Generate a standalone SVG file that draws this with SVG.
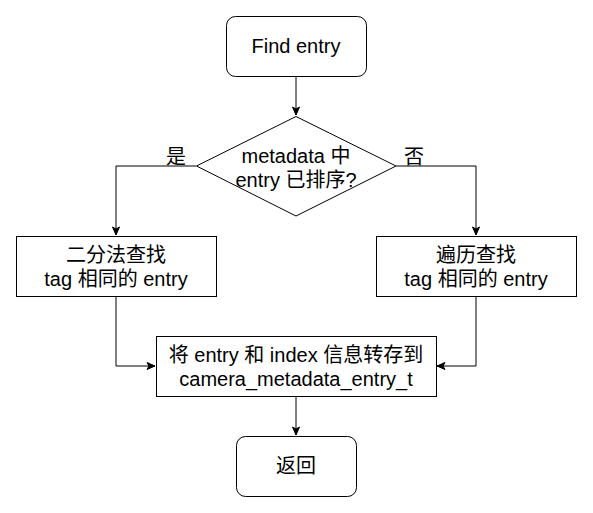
<svg xmlns="http://www.w3.org/2000/svg" width="593" height="513" viewBox="0 0 593 513">
<style>
.box{fill:#fff;stroke:#000;stroke-width:1}
.t{font-family:"Liberation Sans","Noto Sans CJK SC",sans-serif;font-size:20px;fill:#000;text-anchor:middle}
.edge{fill:none;stroke:#000;stroke-width:1}
</style>
<defs>
<marker id="arr" markerUnits="userSpaceOnUse" markerWidth="10" markerHeight="10" viewBox="0 0 10 10" refX="9" refY="5" orient="auto">
<path d="M1,1.5 L9,5 L1,8.5 L3,5 Z" fill="#000" stroke="#000" stroke-width="1"/>
</marker>
</defs>
<rect width="593" height="513" fill="#fff"/>
<g id="connectors">
<path class="edge" d="M296,76 V115" marker-end="url(#arr)"/>
<path class="edge" d="M196,166 H116 V235" marker-end="url(#arr)"/>
<path class="edge" d="M396,166 H476 V235" marker-end="url(#arr)"/>
<path class="edge" d="M116,296 V366 H155" marker-end="url(#arr)"/>
<path class="edge" d="M476,296 V366 H437" marker-end="url(#arr)"/>
<path class="edge" d="M296,396 V435" marker-end="url(#arr)"/>
<text class="t" x="176" y="164">是</text>
<text class="t" x="414" y="164">否</text>
</g>
<g id="start">
<rect class="box" x="226.5" y="16.5" width="140" height="60" rx="9"/>
<text class="t" x="296" y="53">Find entry</text>
</g>
<g id="decision">
<path class="box" d="M296,116.5 L396,166 L296,216 L196.5,166 Z"/>
<text class="t" x="296" y="163">metadata 中</text>
<text class="t" x="296" y="187">entry 已排序?</text>
</g>
<g id="binary">
<rect class="box" x="16.5" y="236.5" width="200" height="60"/>
<text class="t" x="116" y="262">二分法查找</text>
<text class="t" x="116" y="286">tag 相同的 entry</text>
</g>
<g id="linear">
<rect class="box" x="376.5" y="236.5" width="200" height="60"/>
<text class="t" x="476" y="262">遍历查找</text>
<text class="t" x="476" y="286">tag 相同的 entry</text>
</g>
<g id="store">
<rect class="box" x="156.5" y="336.5" width="280" height="60"/>
<text class="t" x="296" y="362">将 entry 和 index 信息转存到</text>
<text class="t" x="296" y="386">camera_metadata_entry_t</text>
</g>
<g id="return">
<rect class="box" x="236.5" y="436.5" width="120" height="60" rx="9"/>
<text class="t" x="296" y="473">返回</text>
</g>
</svg>
